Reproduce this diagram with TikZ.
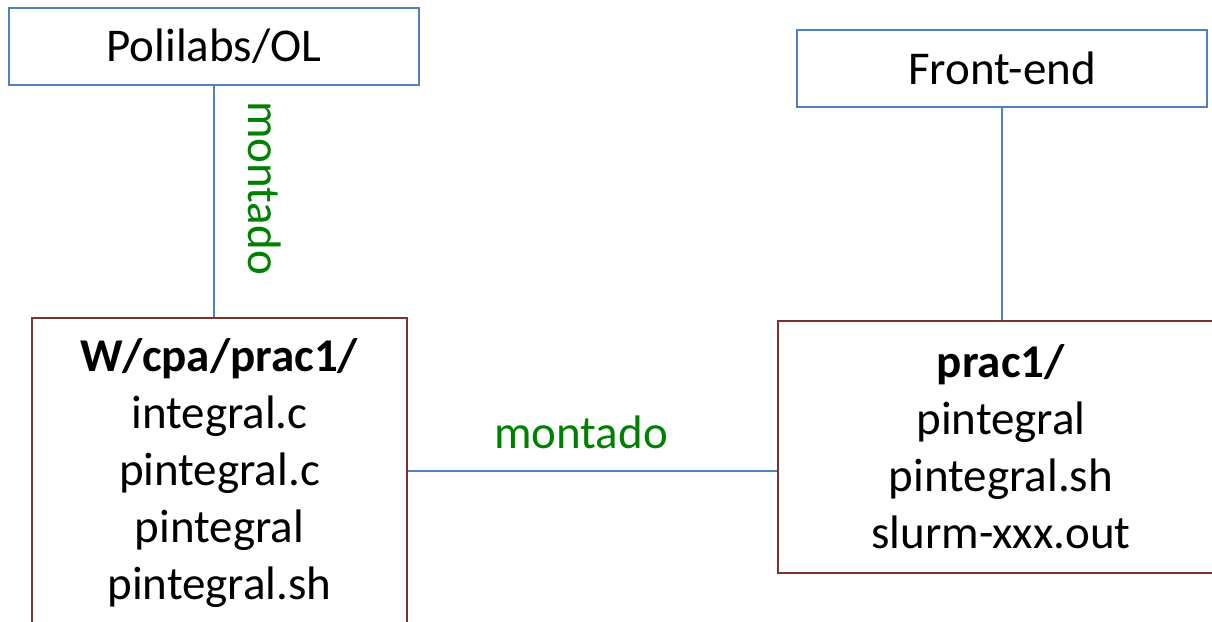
\documentclass[tikz,border=0pt]{standalone}
\usepackage{fontspec}
\setmainfont{Carlito}
\definecolor{boxblue}{RGB}{79,129,189}
\definecolor{boxred}{RGB}{125,50,50}
\definecolor{lblgreen}{RGB}{0,128,0}
\begin{document}
\begin{tikzpicture}[x=1pt,y=-1pt,
  txt/.style={font=\fontsize{47}{57}\selectfont, align=center, inner sep=0pt},
  bluebox/.style={txt, draw=boxblue, line width=2pt, minimum width=410pt, minimum height=77pt},
  redbox/.style={txt, draw=boxred, line width=2pt},
  conn/.style={draw=boxblue, line width=1.5pt},
  lbl/.style={font=\fontsize{47}{57}\selectfont, text=lblgreen, inner sep=0pt}]
\useasboundingbox (0,0) rectangle (1212,621);
\clip (0,0) rectangle (1212,621);
\node[bluebox] (pol) at (214,46.5) {Polilabs/OL};
\node[bluebox] (fe) at (1002,68) {Front-end};
\node[redbox, minimum width=375pt, minimum height=311pt] (w) at (219.5,473)
  {\textbf{W/cpa/prac1/}\\integral.c\\pintegral.c\\pintegral\\pintegral.sh};
\node[redbox, minimum width=446pt, minimum height=252pt] (p) at (1001,447)
  {\textbf{prac1/}\\pintegral\\pintegral.sh\\slurm-xxx.out};
\draw[conn] (pol.south) -- (pol.south |- w.north);
\draw[conn] (fe.south) -- (fe.south |- p.north);
\draw[conn] (w.east |- 0,471) -- (p.west |- 0,471);
\node[lbl, rotate=-90] (m1) at (265,188) {montado};
\node[lbl] (m2) at (581,432) {montado};
\end{tikzpicture}
\end{document}
